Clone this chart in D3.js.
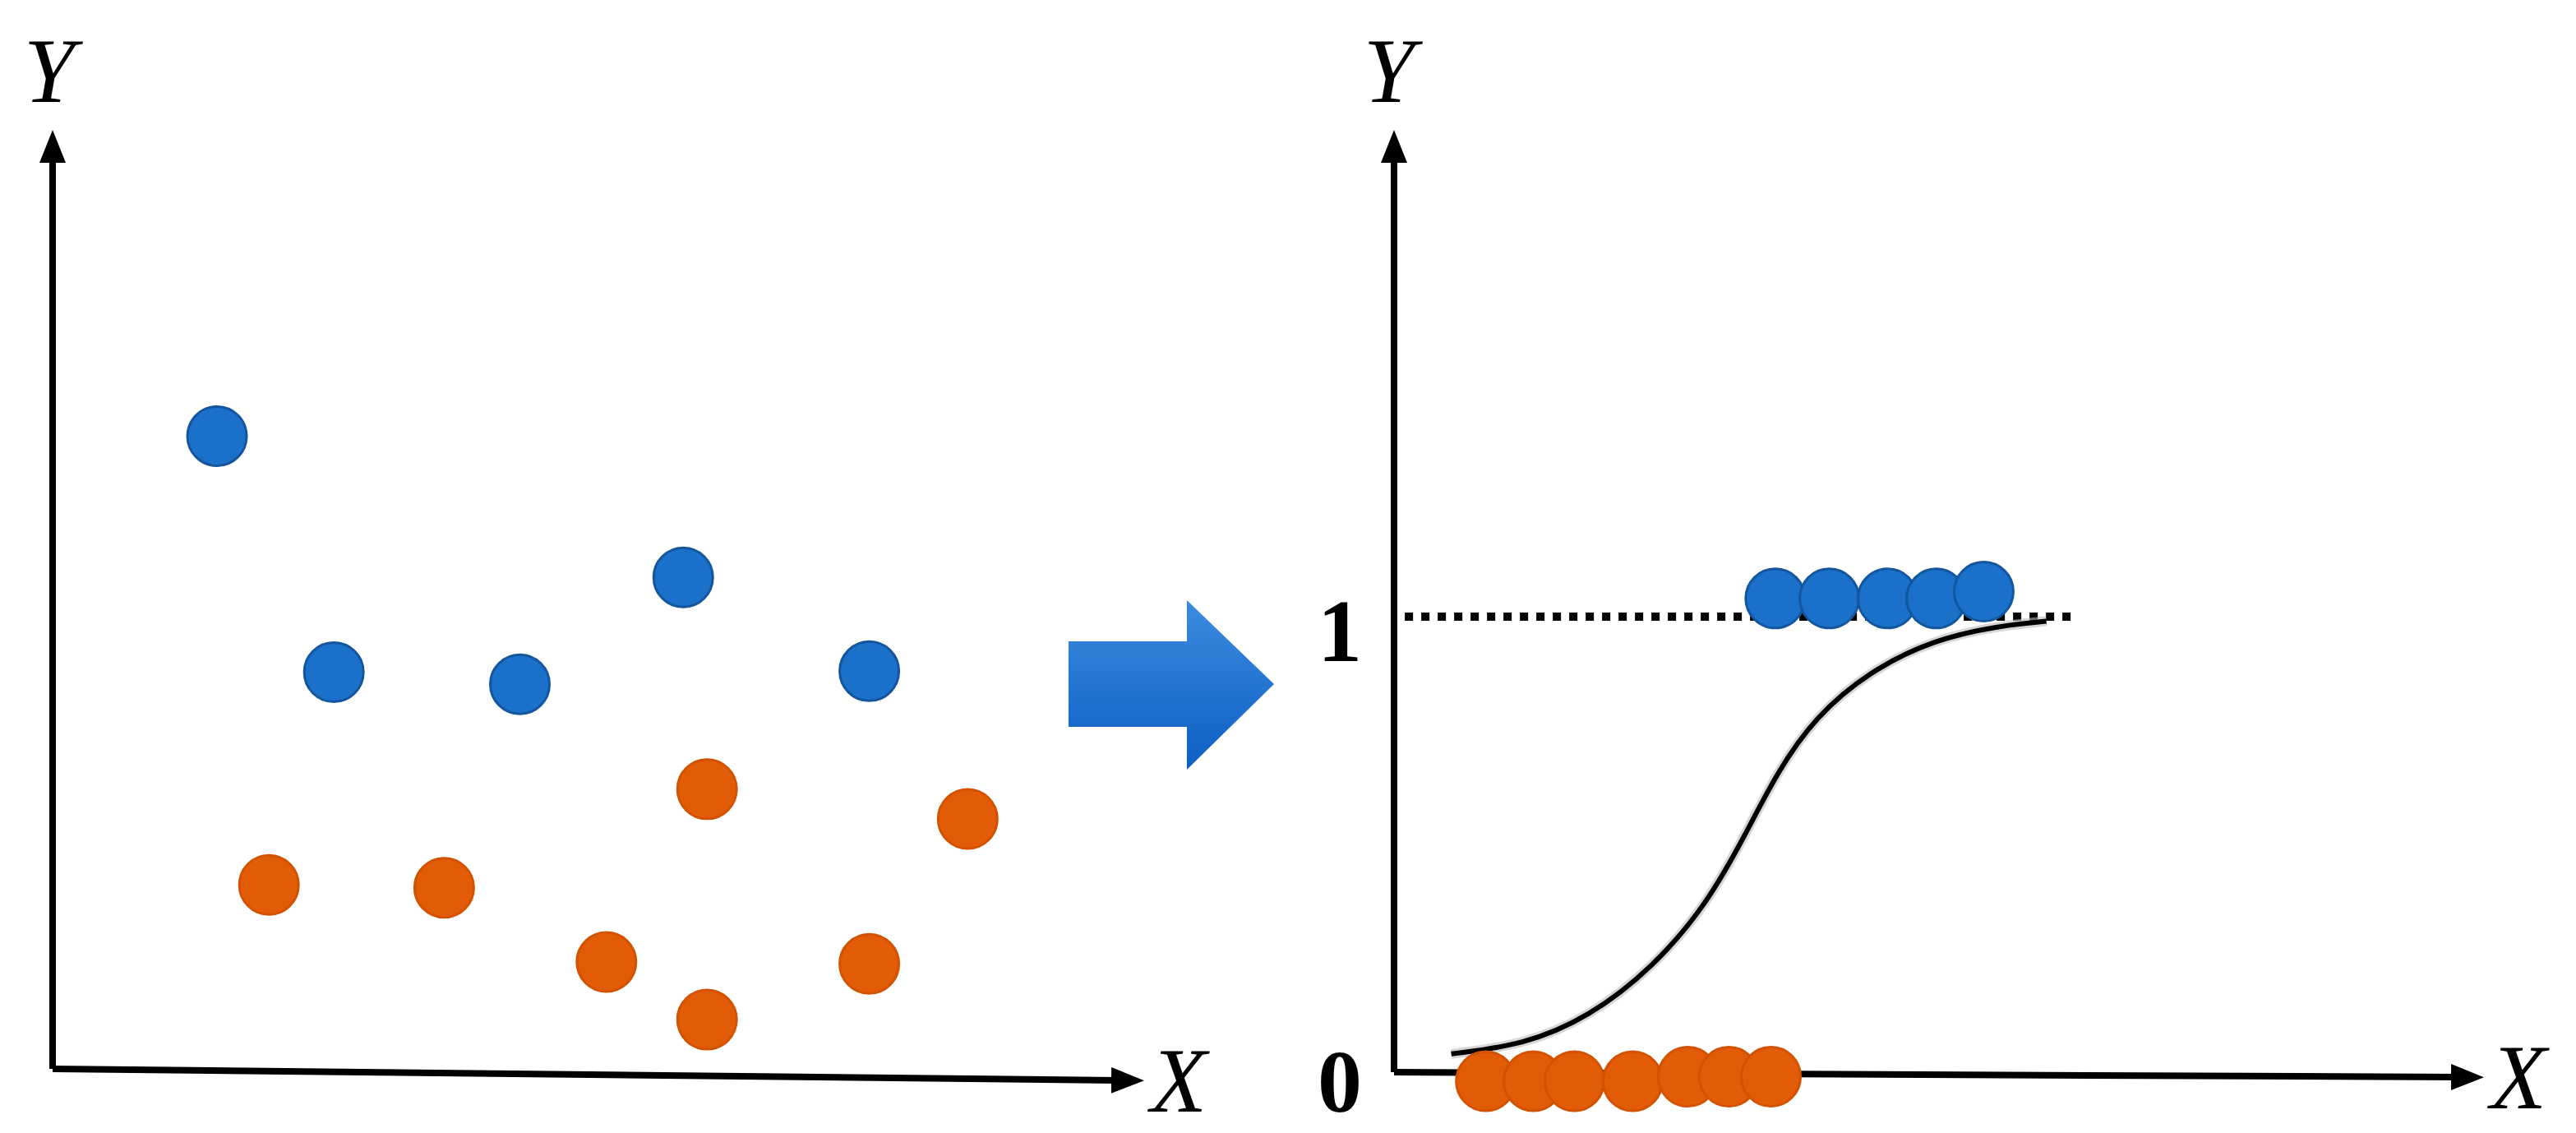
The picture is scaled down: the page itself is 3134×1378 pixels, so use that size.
<!DOCTYPE html>
<html>
<head>
<meta charset="utf-8">
<script src="https://cdn.jsdelivr.net/npm/d3@7"></script>
<style>
  body { margin: 0; background: #fff; }
  svg { display: block; }
</style>
</head>
<body>
<div id="chart-area"></div>
<script>
// left panel: scattered classes (units 0..10)
var leftBlue = [[1.52, 6.81], [2.6, 4.27], [4.32, 4.14], [5.83, 5.29], [7.55, 4.28]];
var leftOrange = [[2.0, 1.98], [3.62, 1.95], [5.12, 1.15], [6.05, 0.53], [6.05, 3.01], [7.55, 1.13], [8.46, 2.69]];

// right panel: classes on 0 / 1 plus the fitted curve
var rightBlue = [[3.53, 1.04], [4.03, 1.04], [4.57, 1.04], [5.02, 1.04], [5.46, 1.055]];
var rightOrange = [[0.85, -0.02], [1.29, -0.02], [1.67, -0.02], [2.21, -0.02], [2.72, -0.01], [3.1, -0.01], [3.49, -0.01]];
var curvePts = [[0.53, 0.04], [1.2, 0.06], [1.8, 0.12], [2.4, 0.23], [2.9, 0.37], [3.25, 0.52],
                [3.55, 0.66], [3.9, 0.78], [4.4, 0.88], [5.0, 0.95], [5.6, 0.98], [6.04, 0.99]];
var dottedLine = [[0.1, 1], [6.3, 1]];
var yTickLabels = ["0", "1"];

var blue = "#1b71c9", blueEdge = "#14569e";
var orange = "#e25c07", orangeEdge = "#d35200";

var svg = d3.select("#chart-area").append("svg")
    .attr("width", 3134).attr("height", 1378)
    .attr("viewBox", "0 0 1567 689");

svg.append("defs").append("marker")
    .attr("id", "arr").attr("viewBox", "0 0 10 10")
    .attr("refX", 2).attr("refY", 5)
    .attr("markerWidth", 5).attr("markerHeight", 5)
    .attr("markerUnits", "strokeWidth")
    .attr("orient", "auto")
  .append("path").attr("d", "M0,1 L10,5 L0,9 Z").attr("fill", "#000");

function axes(ox, oy, xEnd, xEndY, yTop, yLabelX, xLabelX) {
    svg.append("line").attr("x1", ox).attr("y1", oy).attr("x2", ox).attr("y2", yTop + 10)
        .attr("stroke", "#000").attr("stroke-width", 4).attr("marker-end", "url(#arr)");
    svg.append("line").attr("x1", ox).attr("y1", oy).attr("x2", xEnd - 10).attr("y2", xEndY)
        .attr("stroke", "#000").attr("stroke-width", 4).attr("marker-end", "url(#arr)");
    svg.append("text").attr("x", yLabelX).attr("y", 62).text("Y")
        .attr("font-family", "Liberation Serif").attr("font-style", "italic").attr("font-size", 56)
        .attr("text-anchor", "middle");
    svg.append("text").attr("x", xLabelX).attr("y", xEndY + 19).text("X")
        .attr("font-family", "Liberation Serif").attr("font-style", "italic").attr("font-size", 56)
        .attr("text-anchor", "middle");
}

function dots(data, xs, ys, fill, edge, r) {
    svg.append("g").selectAll("circle").data(data).enter()
        .append("circle")
        .attr("cx", d => xs(d[0])).attr("cy", d => ys(d[1])).attr("r", r)
        .attr("fill", fill).attr("stroke", edge).attr("stroke-width", 1.5);
}

// left panel
var lx = d3.scaleLinear().domain([0, 10]).range([32, 690]);
var ly = d3.scaleLinear().domain([0, 10]).range([650, 85]);
axes(32, 650, 690, 657, 85, 30, 717);
dots(leftBlue, lx, ly, blue, blueEdge, 18);
dots(leftOrange, lx, ly, orange, orangeEdge, 18);

// big arrow between panels
var grad = svg.select("defs").append("linearGradient").attr("id", "ag")
    .attr("x1", 0).attr("y1", 0).attr("x2", 0).attr("y2", 1);
grad.append("stop").attr("offset", "0%").attr("stop-color", "#3d8ae0");
grad.append("stop").attr("offset", "100%").attr("stop-color", "#0c5fc2");
svg.append("path")
    .attr("d", "M650,390 L722,390 L722,365 L775,416 L722,468 L722,442 L650,442 Z")
    .attr("fill", "url(#ag)");

// right panel
var rx = d3.scaleLinear().domain([0, 10]).range([848, 1505]);
var ry = d3.scaleLinear().domain([0, 1]).range([652, 375]);
axes(848, 652, 1505, 655, 85, 845, 1532);

svg.append("path").datum(dottedLine)
    .attr("d", d3.line().x(d => rx(d[0])).y(d => ry(d[1])))
    .attr("stroke", "#000").attr("stroke-width", 5).attr("stroke-dasharray", "5,5").attr("fill", "none");

svg.append("g").selectAll("text").data(yTickLabels).enter().append("text")
    .attr("x", 815).attr("y", (d) => ry(+d) + (d === "0" ? 24 : 27))
    .attr("text-anchor", "middle")
    .attr("font-family", "Liberation Serif").attr("font-weight", "bold").attr("font-size", 54)
    .text(d => d);

var line = d3.line().x(d => rx(d[0])).y(d => ry(d[1])).curve(d3.curveBasis);
svg.append("path").datum(curvePts).attr("d", line)
    .attr("stroke", "#bbb").attr("stroke-width", 6).attr("fill", "none").attr("opacity", 0.6);
svg.append("path").datum(curvePts).attr("d", line)
    .attr("stroke", "#000").attr("stroke-width", 3).attr("fill", "none");

dots(rightBlue, rx, ry, blue, blueEdge, 18);
dots(rightOrange, rx, ry, orange, orangeEdge, 18);
</script>
</body>
</html>
